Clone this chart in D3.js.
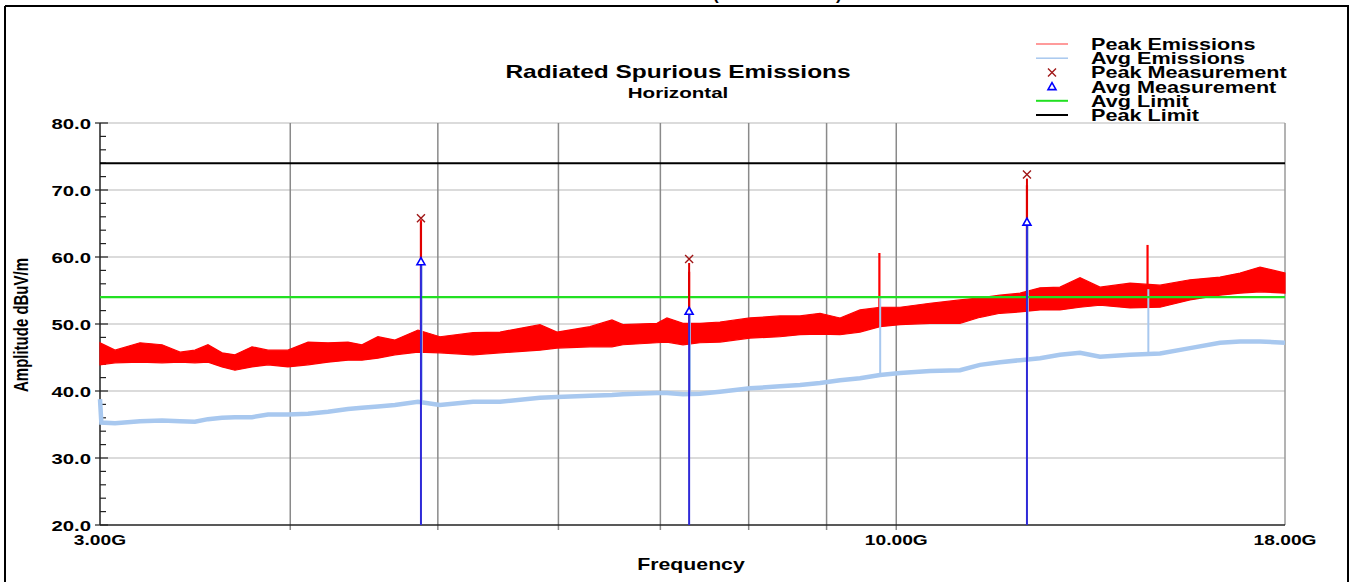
<!DOCTYPE html>
<html><head><meta charset="utf-8">
<script src="https://cdn.jsdelivr.net/npm/d3@7"></script>
<style>
html,body{margin:0;padding:0;background:#fff;}
svg{display:block;font-family:"Liberation Sans",Arial,sans-serif;font-weight:bold;}
</style></head>
<body><svg id="c" width="1352" height="582"></svg>
<script>
// ---------- data ----------
const chartTitle = "Radiated Spurious Emissions";
const chartSubtitle = "Horizontal";
const xTitle = "Frequency";
const yTitle = "Amplitude dBuV/m";
const yTicks = [20, 30, 40, 50, 60, 70, 80];
const yTickLabels = ["20.0", "30.0", "40.0", "50.0", "60.0", "70.0", "80.0"];
const xLabelFreqs = [3, 10, 18];
const xLabels = ["3.00G", "10.00G", "18.00G"];
const xGridFreqs = [4, 5, 6, 7, 8, 9, 10];
const legendNames = ["Peak Emissions", "Avg Emissions", "Peak Measurement", "Avg Measurement", "Avg Limit", "Peak Limit"];

// Peak emissions trace (GHz), envelope of the noisy trace in dBuV/m
const traceFreq = [3.000,3.069,3.187,3.295,3.386,3.463,3.532,3.608,3.679,3.775,3.868,3.986,4.109,4.235,4.365,4.458,4.567,4.686,4.852,5.016,5.273,5.493,5.835,5.987,6.293,6.506,6.615,6.964,7.070,7.244,7.432,7.660,8.016,8.388,8.646,8.911,9.185,9.467,9.757,10.057,10.524,11.012,11.350,11.699,12.058,12.428,12.809,13.203,13.608,14.240,14.901,15.592,16.316,16.817,17.333,18.000];
const peakHigh = [47.2,46.1,47.2,46.9,45.8,46.1,46.9,45.7,45.4,46.6,46.1,46.1,47.3,47.2,47.3,46.9,48.1,47.6,49.1,48.1,48.7,48.8,49.9,48.8,49.6,50.6,49.9,50.1,50.9,50.1,50.1,50.3,50.9,51.2,51.2,51.6,50.9,52.1,52.5,52.5,53.1,53.6,53.9,54.3,54.6,55.4,55.5,56.9,55.5,56.1,55.8,56.6,57.0,57.6,58.5,57.6];
const peakLow  = [43.9,44.2,44.3,44.2,44.3,44.2,44.3,43.6,43.1,43.6,43.9,43.6,43.9,44.3,44.6,44.6,44.9,45.4,45.8,45.7,45.4,45.7,46.1,46.4,46.6,46.6,46.9,47.2,47.3,46.9,47.2,47.3,47.9,48.1,48.4,48.5,48.4,48.8,49.6,49.9,50.1,50.1,51.0,51.6,51.8,52.1,52.1,52.5,52.8,52.4,52.5,53.6,54.3,54.6,54.8,54.6];

// Avg emissions trace
const avgFreq = [3.000,3.006,3.069,3.187,3.295,3.386,3.463,3.532,3.608,3.679,3.775,3.868,3.986,4.109,4.235,4.365,4.458,4.567,4.686,4.852,5.016,5.273,5.493,5.835,5.987,6.293,6.506,6.615,6.964,7.070,7.244,7.432,7.660,8.016,8.388,8.646,8.911,9.185,9.467,9.757,10.057,10.524,11.012,11.350,11.699,12.058,12.428,12.809,13.203,13.608,14.240,14.901,15.592,16.316,16.817,17.333,18.000];
const avgValues = [38.8,35.3,35.2,35.5,35.6,35.5,35.4,35.8,36.0,36.1,36.1,36.5,36.5,36.6,36.9,37.3,37.5,37.7,37.9,38.4,37.9,38.4,38.4,39.0,39.1,39.3,39.4,39.5,39.7,39.7,39.5,39.6,39.9,40.4,40.7,40.9,41.2,41.6,41.9,42.4,42.7,43.0,43.1,43.9,44.3,44.6,44.9,45.4,45.7,45.1,45.4,45.6,46.4,47.2,47.4,47.4,47.2];

// Harmonic spikes on the traces
const spikeFreq = [4.874, 7.311, 9.748, 12.185, 14.622];
const peakSpikeTop = [65.5, 57.8, 60.6, 70.7, 61.8];
const avgSpikeTop = [59.3, 51.9, 53.9, 65.2, 55.2];

// Measurements
const measFreq = [4.874, 7.311, 12.185];
const peakMeas = [65.8, 59.7, 72.3];
const avgMeas = [59.3, 51.9, 65.2];

// Limits
const avgLimit = 54;
const peakLimit = 74;

// ---------- drawing ----------
const svg = d3.select("#c");
const SX = 1.32; // horizontal glyph stretch of the original export

const x = d3.scaleLog().domain([3, 18]).range([100, 1285]);
const y = d3.scaleLinear().domain([20, 80]).range([525, 123]);

function txt(px, py, s, size, anchor, sx, rot) {
  return svg.append("text")
    .attr("transform", `translate(${px},${py}) scale(${sx||SX},1)` + (rot ? ` rotate(${rot})` : ""))
    .attr("text-anchor", anchor || "start")
    .attr("font-size", size)
    .attr("fill", "#000")
    .text(s);
}

// outer frame
svg.append("line").attr("x1", 5).attr("x2", 1349).attr("y1", 6).attr("y2", 6).attr("stroke", "#000").attr("stroke-width", 2);
svg.append("line").attr("x1", 5).attr("x2", 5).attr("y1", 6).attr("y2", 582).attr("stroke", "#000").attr("stroke-width", 2);
svg.append("line").attr("x1", 1348).attr("x2", 1348).attr("y1", 6).attr("y2", 582).attr("stroke", "#000").attr("stroke-width", 2);
// bottom of the cut-off header text
txt(713, 0, "(", 17, "start", 1);
txt(836, 0, ")", 17, "start", 1);

// horizontal grid
svg.append("g").selectAll("line").data(yTicks.slice(1)).join("line")
  .attr("x1", x(3)).attr("x2", x(18)).attr("y1", d => y(d)).attr("y2", d => y(d))
  .attr("stroke", "#cfcfcf").attr("stroke-width", 1.5);
// vertical grid
svg.append("g").selectAll("line").data(xGridFreqs).join("line")
  .attr("x1", d => x(d)).attr("x2", d => x(d)).attr("y1", y(80)).attr("y2", y(20) + 5)
  .attr("stroke", "#8a8a8a").attr("stroke-width", 1.5);
// right frame
svg.append("line").attr("x1", x(18)).attr("x2", x(18)).attr("y1", y(80)).attr("y2", y(20))
  .attr("stroke", "#9a9a9a").attr("stroke-width", 1.5);

// y axis ticks
const minor = d3.range(20, 80.1, 2);
svg.append("g").selectAll("line").data(minor).join("line")
  .attr("x1", d => (d % 10 === 0) ? 95 : 100).attr("x2", d => (d % 10 === 0) ? 108 : 106)
  .attr("y1", d => y(d)).attr("y2", d => y(d))
  .attr("stroke", "#222").attr("stroke-width", 1.2);
svg.append("line").attr("x1", x(3)).attr("x2", x(3)).attr("y1", y(80)).attr("y2", y(20)).attr("stroke", "#222").attr("stroke-width", 1.5);
svg.append("line").attr("x1", x(3)).attr("x2", x(18)).attr("y1", y(20)).attr("y2", y(20)).attr("stroke", "#222").attr("stroke-width", 1.5);
yTicks.forEach((t, i) => txt(91, y(t) + 5.5, yTickLabels[i], 14.5, "end", 1.4));
xLabelFreqs.forEach((f, i) => txt(x(f), 545, xLabels[i], 15, "middle", 1.28));

// Peak emissions band
const band = d3.area().x((d, i) => x(traceFreq[i])).y0((d, i) => y(peakLow[i])).y1(d => y(d));
svg.append("path").datum(peakHigh).attr("d", band).attr("fill", "#ff0000").attr("stroke", "#ff0000").attr("stroke-width", 1.2);

// Avg emissions
const avgLine = d3.line().x((d, i) => x(avgFreq[i])).y(d => y(d));
svg.append("path").datum(avgValues).attr("d", avgLine).attr("fill", "none").attr("stroke", "#a8c8ef").attr("stroke-width", 4.5);

// spikes
function nearest(arr, f) { return d3.leastIndex(arr, a => Math.abs(Math.log(a / f))); }
svg.append("g").selectAll("line").data(spikeFreq).join("line")
  .attr("x1", d => x(d)).attr("x2", d => x(d))
  .attr("y1", (d, i) => y(peakLow[nearest(traceFreq, d)])).attr("y2", (d, i) => y(peakSpikeTop[i]))
  .attr("stroke", "#ff0000").attr("stroke-width", 2.2);
svg.append("g").selectAll("line").data(spikeFreq).join("line")
  .attr("x1", d => x(d) + 0.8).attr("x2", d => x(d) + 0.8)
  .attr("y1", d => y(avgValues[nearest(avgFreq, d)])).attr("y2", (d, i) => y(avgSpikeTop[i]))
  .attr("stroke", "#a8c8ef").attr("stroke-width", 2);

// limits
svg.append("line").attr("x1", x(3)).attr("x2", x(18)).attr("y1", y(avgLimit)).attr("y2", y(avgLimit)).attr("stroke", "#22e022").attr("stroke-width", 2.2);
svg.append("line").attr("x1", x(3)).attr("x2", x(18)).attr("y1", y(peakLimit)).attr("y2", y(peakLimit)).attr("stroke", "#000").attr("stroke-width", 2);

// measurement lines + markers
svg.append("g").selectAll("line").data(measFreq).join("line")
  .attr("x1", d => x(d)).attr("x2", d => x(d))
  .attr("y1", y(20)).attr("y2", (d, i) => y(avgMeas[i]))
  .attr("stroke", "#2f2ad8").attr("stroke-width", 2);
svg.append("g").selectAll("line").data(measFreq).join("line")
  .attr("x1", d => x(d)).attr("x2", d => x(d))
  .attr("y1", (d, i) => y(avgMeas[i]) - 3).attr("y2", (d, i) => y(peakMeas[i]) + 4)
  .attr("stroke", "#e00000").attr("stroke-width", 2);

function tri(g, cx, cy) {
  g.append("path").attr("d", `M${cx},${cy - 4}L${cx + 4},${cy + 3}L${cx - 4},${cy + 3}Z`)
    .attr("fill", "#fff").attr("stroke", "#0000ff").attr("stroke-width", 1.6);
}
function cross(g, cx, cy) {
  g.append("path").attr("d", `M${cx - 4},${cy - 4}L${cx + 4},${cy + 4}M${cx + 4},${cy - 4}L${cx - 4},${cy + 4}`)
    .attr("stroke", "#a01818").attr("stroke-width", 1.4).attr("fill", "none");
}
measFreq.forEach((f, i) => { tri(svg, x(f), y(avgMeas[i])); cross(svg, x(f), y(peakMeas[i])); });

// titles
txt(678, 78, chartTitle, 18, "middle", 1.36);
txt(678, 98, chartSubtitle, 14.5, "middle", 1.42);
txt(691, 570, xTitle, 16, "middle", 1.33);
svg.append("text")
  .attr("transform", `translate(28,325) scale(1.3,1) rotate(-90)`)
  .attr("text-anchor", "middle").attr("font-size", 15).text(yTitle);

// legend
const lg = svg.append("g");
const rowY = i => 44 + i * 14.2;
legendNames.forEach((n, i) => {
  const cy = rowY(i);
  if (i === 0) lg.append("line").attr("x1", 1036).attr("x2", 1068).attr("y1", cy).attr("y2", cy).attr("stroke", "#ff7a7a").attr("stroke-width", 1.5);
  if (i === 1) lg.append("line").attr("x1", 1036).attr("x2", 1068).attr("y1", cy).attr("y2", cy).attr("stroke", "#a8c8ef").attr("stroke-width", 1.5);
  if (i === 2) cross(lg, 1052, cy);
  if (i === 3) tri(lg, 1052, cy);
  if (i === 4) lg.append("line").attr("x1", 1036).attr("x2", 1068).attr("y1", cy).attr("y2", cy).attr("stroke", "#22e022").attr("stroke-width", 2);
  if (i === 5) lg.append("line").attr("x1", 1036).attr("x2", 1068).attr("y1", cy).attr("y2", cy).attr("stroke", "#000").attr("stroke-width", 2);
  txt(1091, cy + 6, n, 16.5, "start", 1.31);
});
</script></body></html>
